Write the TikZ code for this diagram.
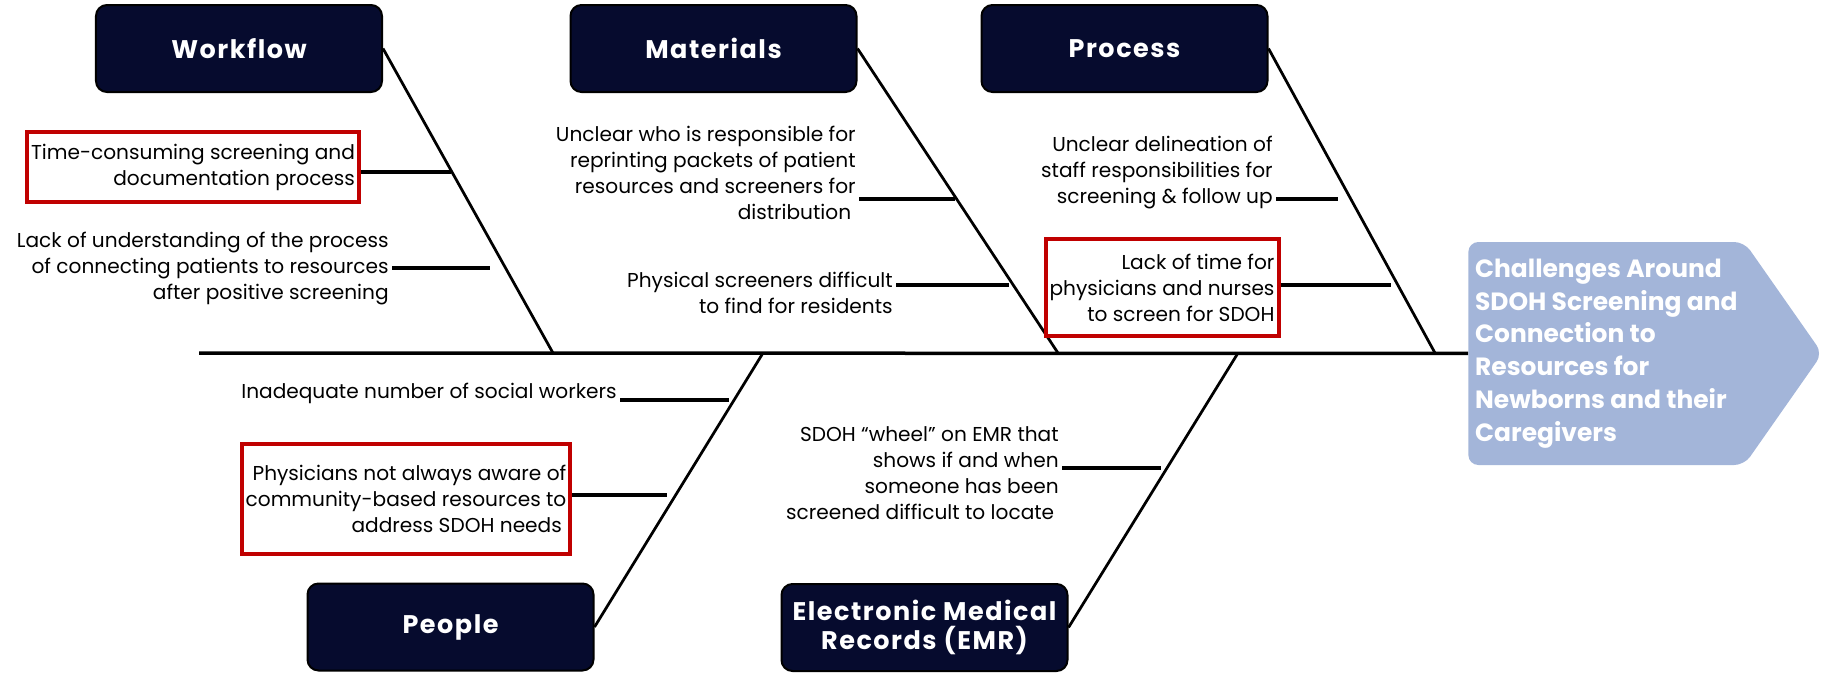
\documentclass[tikz,border=0pt]{standalone}
\usepackage{fontspec}
\setmainfont{Poppins}
\newfontfamily\catfont{Poppins}[LetterSpace=6]
\usetikzlibrary{shapes.symbols}

\definecolor{navy}{HTML}{060B2E}
\definecolor{redline}{HTML}{C00000}
\definecolor{headblue}{HTML}{A3B5D9}

\tikzset{
  cat/.style={draw=black, line width=0.4mm, fill=navy, rounded corners=2.2mm,
    minimum width=57.2mm, minimum height=17.4mm, text=white, align=center,
    font=\catfont\fontsize{14.5}{17}\selectfont\bfseries},
  cause/.style={align=right, inner sep=0.6mm, anchor=east,
    font=\fontsize{11.45}{14.8}\selectfont},
  keycause/.style={cause, anchor=center, draw=redline, line width=0.8mm,
    inner xsep=0.8mm},
  head/.style={signal, signal to=east, signal pointer angle=110, fill=headblue,
    rounded corners=2mm, minimum width=70.8mm, minimum height=44.6mm,
    inner xsep=1.2mm, text=white, align=left,
    font=\fontsize{14.2}{18.7}\selectfont\bfseries},
  bone/.style={line width=0.55mm},
  twig/.style={line width=0.7mm},
}

\begin{document}
\begin{tikzpicture}[x=0.2mm, y=-0.2mm]
  \useasboundingbox (0,0) rectangle (1822,673);

  % categories
  \node[cat] (wf) at (239,48.5) {Workflow};
  \node[cat] (mat) at (713.5,48.5) {Materials};
  \node[cat] (proc) at (1124.5,48.5) {Process};
  \node[cat] (ppl) at (450.5,627) {People};
  \node[cat] (emr) at (924.5,627.5) {Electronic Medical\\Records (EMR)};

  % head and spine
  \node[head, anchor=west] (head) at (1468,353.5) {Challenges Around\\SDOH Screening and\\Connection to\\Resources for\\Newborns and their\\Caregivers};
  \coordinate (tail) at (199,353);
  \draw[line width=0.7mm] (tail) -- (head);

  % bones
  \coordinate (wfj) at (553,353);
  \coordinate (matj) at (1058,353);
  \coordinate (procj) at (1435,353);
  \coordinate (pplj) at (763,353);
  \coordinate (emrj) at (1238,353);
  \draw[bone] (wf.east) -- (wfj);
  \draw[bone] (mat.east) -- (matj);
  \draw[bone] (proc.east) -- (procj);
  \draw[bone] (ppl.east) -- (pplj);
  \draw[bone] (emr.east) -- (emrj);

  % workflow causes
  \node[keycause, minimum width=66.4mm, minimum height=14mm] (wf1) at (193,167) {Time-consuming screening and\\documentation process};
  \node[cause] (wf2) at (392,269) {Lack of understanding of the process\\of connecting patients to resources\\after positive screening};
  \coordinate (wfb1) at (451,172);
  \coordinate (wfb2) at (490,268);

  % materials causes
  \node[cause] (mat1) at (859,172.5) {Unclear who is responsible for\\reprinting packets of patient\\resources and screeners for\\distribution\hspace*{0.9mm}};
  \node[cause] (mat2) at (896,292.5) {Physical screeners difficult\\to find for residents};
  \coordinate (matb1) at (955,199);
  \coordinate (matb2) at (1009,285);

  % process causes
  \node[cause] (proc1) at (1276,173) {Unclear delineation of\\staff responsibilities for\\screening \& follow up};
  \node[keycause, minimum width=45.6mm, minimum height=19.4mm] (proc2) at (1162,287.5) {Lack of time for\\physicians and nurses\\to screen for SDOH};
  \coordinate (procb1) at (1338,199);
  \coordinate (procb2) at (1391,285);

  % people causes
  \node[cause] (ppl1) at (620,393) {Inadequate number of social workers};
  \node[keycause, minimum width=65.2mm, minimum height=22mm] (ppl2) at (406,499) {Physicians not always aware of\\community-based resources to\\address SDOH needs\hspace*{0.9mm}};
  \coordinate (pplb1) at (729,400);
  \coordinate (pplb2) at (667,495);

  % emr causes
  \node[cause] (emr1) at (1062,473) {SDOH ``wheel'' on EMR that\\shows if and when\\someone has been\\screened difficult to locate\hspace*{0.9mm}};
  \coordinate (emrb1) at (1161,468);

  % twigs
  \foreach \c/\b in {wf1/wfb1, wf2/wfb2, mat1/matb1, mat2/matb2, proc1/procb1,
      proc2/procb2, ppl1/pplb1, ppl2/pplb2, emr1/emrb1}
    \draw[twig] (\b -| \c.east) -- (\b);
\end{tikzpicture}
\end{document}
